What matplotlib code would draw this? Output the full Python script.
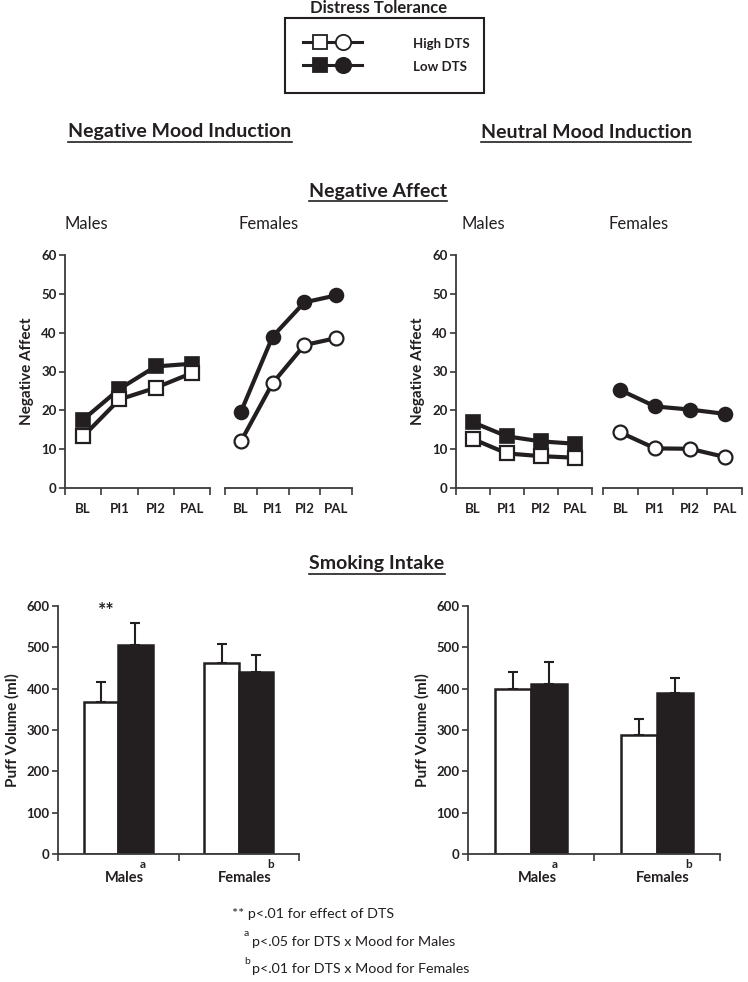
import matplotlib
matplotlib.use('Agg')
import matplotlib.pyplot as plt
from matplotlib.lines import Line2D
from matplotlib.patches import Rectangle

# ---------------- data ----------------
timepoints = ['BL', 'PI1', 'PI2', 'PAL']

neg_male_high = [13.3, 22.8, 25.8, 29.6]
neg_male_low = [17.6, 25.5, 31.3, 32.0]
neg_female_high = [12.0, 27.0, 36.8, 38.6]
neg_female_low = [19.6, 39.0, 47.8, 49.6]

neu_male_high = [12.6, 8.9, 8.2, 7.8]
neu_male_low = [16.9, 13.3, 12.0, 11.4]
neu_female_high = [14.3, 10.2, 10.1, 8.0]
neu_female_low = [25.2, 21.0, 20.2, 19.1]

groups = ['Males', 'Females']
group_sup = ['a', 'b']
neg_puff_high = [367, 463]
neg_puff_high_err = [49, 46]
neg_puff_low = [505, 441]
neg_puff_low_err = [55, 40]
neu_puff_high = [398, 287]
neu_puff_high_err = [42, 40]
neu_puff_low = [411, 389]
neu_puff_low_err = [53, 38]

na_ticks = [0, 10, 20, 30, 40, 50, 60]
puff_ticks = [0, 100, 200, 300, 400, 500, 600]

# ---------------- style ----------------
FONT = 'Lato'
plt.rcParams['font.family'] = [FONT, 'DejaVu Sans']
DARK = '#231f20'
AXC = '#3a3a3a'
TICKFS = 9.5

W, H = 748, 982
fig = plt.figure(figsize=(W / 100, H / 100), dpi=100)


def ax_px(x0, x1, y0, y1):
    return fig.add_axes([x0 / W, 1 - y1 / H, (x1 - x0) / W, (y1 - y0) / H])


def ftext(x, y, s, **kw):
    return fig.text(x / W, 1 - y / H, s, **kw)


def line_axes(x0, x1, high, low, marker, show_y):
    ax = ax_px(x0, x1, 255, 488)
    ax.set_xlim(0, 4)
    ax.set_ylim(0, 60)
    ax.patch.set_alpha(0)
    for s in ['top', 'right']:
        ax.spines[s].set_visible(False)
    ax.spines['bottom'].set_color(AXC)
    ax.spines['bottom'].set_linewidth(1.3)
    ax.spines['left'].set_color(AXC)
    ax.spines['left'].set_linewidth(1.3)
    if show_y:
        ax.set_yticks(na_ticks)
        ax.set_yticklabels([str(t) for t in na_ticks], fontsize=TICKFS,
                           fontweight='bold', color=DARK)
        ax.tick_params(axis='y', length=4, width=1.2, color=AXC, pad=2)
        ax.set_ylabel('Negative Affect', fontsize=11, fontweight='bold',
                      color=DARK, labelpad=5)
    else:
        ax.spines['left'].set_visible(False)
        ax.set_yticks([])
    ax.set_xticks([0, 1, 2, 3, 4])
    ax.set_xticklabels([])
    ax.tick_params(axis='x', which='major', length=5, width=1.2, color=AXC)
    xs = [0.5, 1.5, 2.5, 3.5]
    ax.set_xticks(xs, minor=True)
    ax.set_xticklabels(timepoints, minor=True, fontsize=TICKFS,
                       fontweight='bold', color=DARK)
    ax.tick_params(axis='x', which='minor', length=0, pad=11)
    ax.plot(xs, low, color=DARK, lw=3, marker=marker, ms=10,
            mfc=DARK, mec=DARK, mew=1.2, clip_on=False, zorder=3)
    ax.plot(xs, high, color=DARK, lw=3, marker=marker, ms=10,
            mfc='white', mec=DARK, mew=1.6, clip_on=False, zorder=4)
    return ax


line_axes(65, 210, neg_male_high, neg_male_low, 's', True)
line_axes(225, 352, neg_female_high, neg_female_low, 'o', False)
line_axes(456, 592, neu_male_high, neu_male_low, 's', True)
line_axes(603, 742, neu_female_high, neu_female_low, 'o', False)


def bar_axes(x0, x1, high, high_err, low, low_err, stars):
    ax = ax_px(x0, x1, 606, 854)
    ax.set_xlim(0, 2)
    ax.set_ylim(0, 600)
    ax.patch.set_alpha(0)
    for s in ['top', 'right']:
        ax.spines[s].set_visible(False)
    for s in ['left', 'bottom']:
        ax.spines[s].set_color(AXC)
        ax.spines[s].set_linewidth(1.3)
    ax.set_yticks(puff_ticks)
    ax.set_yticklabels([str(t) for t in puff_ticks], fontsize=TICKFS,
                       fontweight='bold', color=DARK)
    ax.tick_params(axis='y', length=4, width=1.2, color=AXC, pad=2)
    ax.set_ylabel('Puff Volume (ml)', fontsize=11, fontweight='bold',
                  color=DARK, labelpad=5)
    ax.set_xticks([0, 1, 2])
    ax.set_xticklabels([])
    ax.tick_params(axis='x', length=5, width=1.2, color=AXC)
    bw = 0.285
    centers = [0.5, 1.5]
    xh = [c - bw / 2 for c in centers]
    xl = [c + bw / 2 for c in centers]
    ax.bar(xh, high, width=bw, color='white', edgecolor=DARK, linewidth=1.8,
           zorder=2)
    ax.bar(xl, low, width=bw, color=DARK, edgecolor=DARK, linewidth=1.8,
           zorder=2)
    ax.errorbar(xh, high, yerr=[[0] * 2, high_err], fmt='none', ecolor=DARK,
                elinewidth=1.5, capsize=3.5, capthick=1.5, zorder=1)
    ax.errorbar(xl, low, yerr=[[0] * 2, low_err], fmt='none', ecolor=DARK,
                elinewidth=1.5, capsize=3.5, capthick=1.5, zorder=1)
    for c, g, sup in zip(centers, groups, group_sup):
        ax.annotate(g, xy=(c, 0), xycoords='data', xytext=(6, -24),
                    textcoords='offset pixels', ha='center', va='center',
                    fontsize=10.5, fontweight='bold', color=DARK,
                    annotation_clip=False)
        dx = 24 if g == 'Males' else 32
        ax.annotate(sup, xy=(c, 0), xycoords='data', xytext=(dx, -10),
                    textcoords='offset pixels', ha='center', va='center',
                    fontsize=8.5, fontweight='bold', color=DARK,
                    annotation_clip=False)
    if stars:
        ax.text(xh[0] + 0.04, 590, stars, ha='center', va='center',
                fontsize=14, fontweight='bold', color=DARK)
    return ax


bar_axes(58, 299, neg_puff_high, neg_puff_high_err, neg_puff_low,
         neg_puff_low_err, '**')
bar_axes(468, 720, neu_puff_high, neu_puff_high_err, neu_puff_low,
         neu_puff_low_err, None)

# ---------------- legend box ----------------
ftext(379, 8, 'Distress Tolerance', ha='center', va='center', fontsize=12,
      fontweight='bold', color=DARK)
fig.patches.append(Rectangle((285 / W, 1 - 93 / H), (484 - 285) / W,
                             (93 - 18) / H, transform=fig.transFigure,
                             fill=False, edgecolor=DARK, linewidth=1.5))
for yy, fc in [(42, 'white'), (65, DARK)]:
    fig.lines.append(Line2D([303 / W, 362 / W], [1 - yy / H] * 2,
                            transform=fig.transFigure, color=DARK, lw=2.2))
    fig.lines.append(Line2D([320 / W], [1 - yy / H], transform=fig.transFigure,
                            marker='s', ms=10, mfc=fc, mec=DARK, mew=1.3,
                            lw=0))
    fig.lines.append(Line2D([343 / W], [1 - yy / H], transform=fig.transFigure,
                            marker='o', ms=11, mfc=fc, mec=DARK, mew=1.3,
                            lw=0))
ftext(413, 44, 'High DTS', ha='left', va='center', fontsize=9.5,
      fontweight='bold', color=DARK)
ftext(413, 67, 'Low DTS', ha='left', va='center', fontsize=9.5,
      fontweight='bold', color=DARK)

# ---------------- headings ----------------
underlined = []
underlined.append(ftext(180, 132, 'Negative Mood Induction', ha='center',
                        va='center', fontsize=14, fontweight='bold',
                        color=DARK))
underlined.append(ftext(586, 132, 'Neutral Mood Induction', ha='center',
                        va='center', fontsize=14, fontweight='bold',
                        color=DARK))
underlined.append(ftext(378, 191, 'Negative Affect', ha='center', va='center',
                        fontsize=14, fontweight='bold', color=DARK))
underlined.append(ftext(377, 564, 'Smoking Intake', ha='center', va='center',
                        fontsize=14, fontweight='bold', color=DARK))

for x, s in [(86, 'Males'), (269, 'Females'), (483, 'Males'),
             (639, 'Females')]:
    ftext(x, 224, s, ha='center', va='center', fontsize=12, color=DARK)

# ---------------- footnotes ----------------
ftext(232, 914, '** p<.01 for effect of DTS', ha='left', va='center',
      fontsize=10.3, color=DARK)
ftext(244, 934, 'a', ha='left', va='center', fontsize=7.5, color=DARK)
ftext(252, 942, 'p<.05 for DTS x Mood for Males', ha='left', va='center',
      fontsize=10.3, color=DARK)
ftext(244, 961, 'b', ha='left', va='center', fontsize=7.5, color=DARK)
ftext(252, 969, 'p<.01 for DTS x Mood for Females', ha='left', va='center',
      fontsize=10.3, color=DARK)

# underlines
fig.canvas.draw()
r = fig.canvas.get_renderer()
for t in underlined:
    bb = t.get_window_extent(r)
    y = bb.y0 - 1
    fig.lines.append(Line2D([bb.x0 / W, bb.x1 / W], [y / H, y / H],
                            transform=fig.transFigure, color=DARK, lw=1.2))

fig.savefig('out.png', dpi=100)
